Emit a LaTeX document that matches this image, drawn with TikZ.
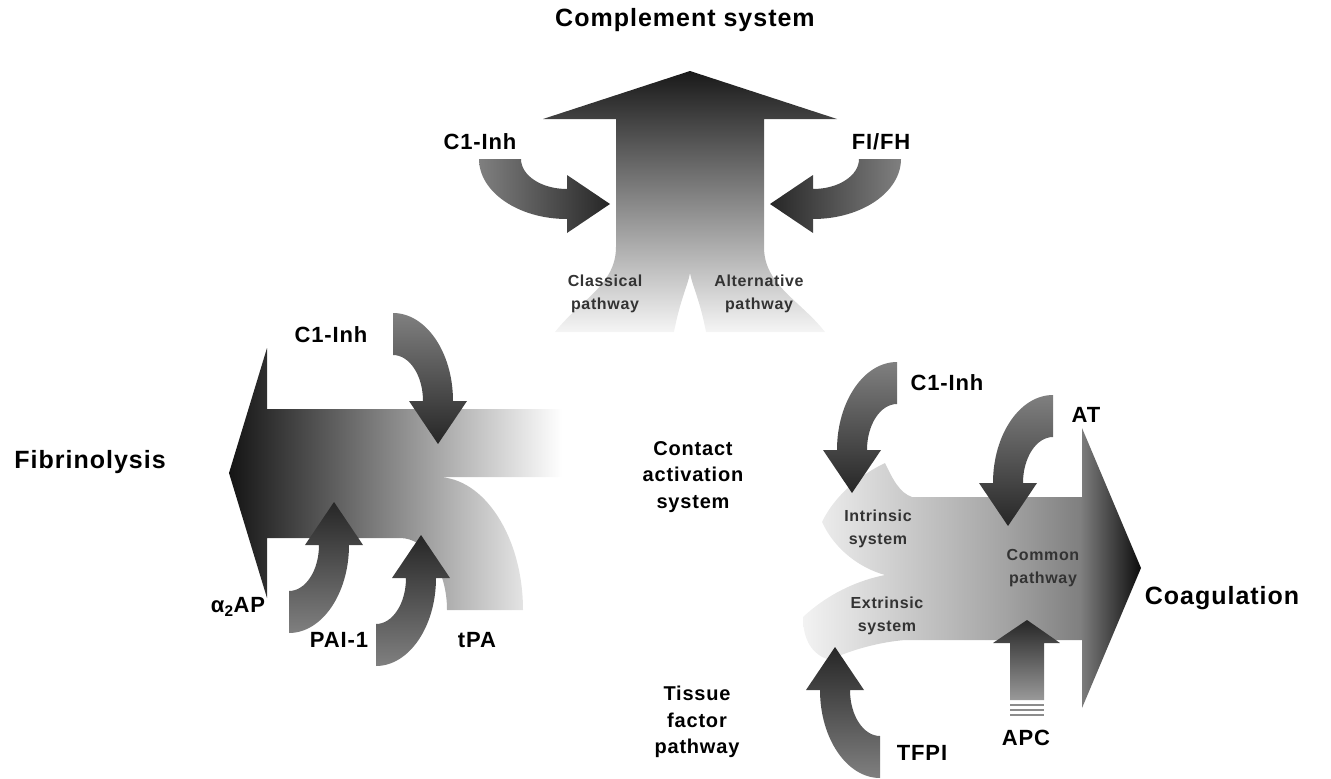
\documentclass[tikz,border=0pt]{standalone}
\usepackage{
    fontspec,   % For the figure font
}
\setmainfont{Liberation Sans}
\newfontfamily\figfont[LetterSpace=4]{Liberation Sans}
\pgfdeclarehorizontalshading{coagshade}{100bp}{color(0bp)=(black!5);
    color(25bp)=(black!5); color(55bp)=(black!36); color(66bp)=(black!50);
    color(75bp)=(black!95); color(100bp)=(black!95)}
\tikzstyle{bigtext} = [font=\figfont\bfseries\fontsize{25}{30}\selectfont]
\tikzstyle{inhtext} = [font=\figfont\bfseries\fontsize{22}{26}\selectfont]
\tikzstyle{systext} = [font=\figfont\bfseries\fontsize{20}{26.5}\selectfont,
    align=center]
\tikzstyle{steptext} = [font=\figfont\bfseries\fontsize{16}{23}\selectfont,
    align=center, text=black!80]
\tikzstyle{inhshape} = [insert path={(0,-88) .. controls (33,-88) and (60,-48.6) .. (60,0)
    -- (74,0) -- (45,43) -- (16,0) -- (30,0)
    .. controls (30,-25.4) and (16.6,-46) .. (0,-46) -- cycle}]
\tikzstyle{inhdown} = [top color=black!50, bottom color=black!85]
\tikzstyle{inhup} = [top color=black!85, bottom color=black!50]
\tikzstyle{inhright} = [left color=black!50, right color=black!85]
\tikzstyle{inhleft} = [left color=black!85, right color=black!50]

\begin{document}
\begin{tikzpicture}[x=1pt, y=-1pt]
        \useasboundingbox (0,0) rectangle (1331,779);
        % Complement arrow
        \shade [top color=black!90, middle color=black!45, bottom color=black!4]
            (690,71) -- (837,119) -- (764,119) -- (764,247)
            .. controls (764,285) and (800,300) .. (825,332) -- (706,332)
            .. controls (700,300) and (692,285) .. (690,273)
            .. controls (688,285) and (680,300) .. (674,332) -- (555,332)
            .. controls (580,300) and (616,285) .. (616,247)
            -- (616,119) -- (543,119) -- cycle;
        % Fibrinolysis arrow
        \shade [left color=black!92, middle color=black!45, right color=white]
            (229,473) -- (267,348) -- (267,409) -- (562,409) -- (562,477) -- (437,477)
            .. controls (484,477) and (523,537) .. (523,610) -- (447,610)
            .. controls (447,570) and (426,538) .. (400,538)
            -- (267,538) -- (267,598) -- cycle;
        % Coagulation arrow
        \shade [shading=coagshade]
            (912,497) -- (1082,497) -- (1082,428) -- (1141,568) -- (1082,708)
            -- (1082,640) -- (905,640)
            .. controls (880,642) and (850,650) .. (830,660)
            .. controls (812,655) and (803,640) .. (803,617)
            .. controls (830,592) and (860,580) .. (885,575)
            .. controls (860,568) and (835,550) .. (822,522)
            .. controls (835,495) and (860,475) .. (885,463)
            .. controls (893,480) and (900,493) .. (912,497) -- cycle;
        % Inhibitor arrows
        \shade [inhright, cm={0,-1,-1,0,(567,159)}, inhshape];
        \shade [inhleft, cm={0,-1,1,0,(813,159)}, inhshape];
        \shade [inhdown, shift={(393,401)}, inhshape];
        \shade [inhup, shift={(289,545)}, yscale=-1, inhshape];
        \shade [inhup, shift={(376,578)}, yscale=-1, inhshape];
        \shade [inhdown, shift={(897,450)}, xscale=-1, inhshape];
        \shade [inhdown, shift={(1053,483)}, xscale=-1, inhshape];
        \shade [inhup, shift={(880,690)}, scale=-1, inhshape];
        % APC arrow
        \shade [top color=black!85, bottom color=black!40]
            (1027,620) -- (1060,643) -- (1044,643) -- (1044,700)
            -- (1010,700) -- (1010,643) -- (993,643) -- cycle;
        \foreach \y in {705,710,715}
            \draw [black!45, line width=2] (1010,\y) -- (1044,\y);
        % Place labels
        \node [bigtext] (complement) at (685,20) {Complement system};
        \node [bigtext] (fibrinolysis) at (90,462) {Fibrinolysis};
        \node [bigtext] (coagulation) at (1222,598) {Coagulation};
        \node [systext] (contact) at (693,477) {Contact\\activation\\system};
        \node [systext] (tissue) at (697,722) {Tissue\\factor\\pathway};
        \node [inhtext] (c1Top) at (480,142) {C1-Inh};
        \node [inhtext] (fiFh) at (881,142) {FI/FH};
        \node [inhtext] (c1Left) at (331,335) {C1-Inh};
        \node [inhtext] (c1Right) at (947,383) {C1-Inh};
        \node [inhtext] (atLbl) at (1086,415) {AT};
        \node [inhtext] (a2ap) at (238,607) {α\textsubscript{2}AP};
        \node [inhtext] (pai) at (339,640) {PAI-1};
        \node [inhtext] (tpa) at (477,640) {tPA};
        \node [inhtext] (tfpi) at (922,753) {TFPI};
        \node [inhtext] (apc) at (1026,738) {APC};
        \node [steptext] (classical) at (605,294) {Classical\\pathway};
        \node [steptext] (alternative) at (759,294) {Alternative\\pathway};
        \node [steptext] (intrinsic) at (878,529) {Intrinsic\\system};
        \node [steptext] (extrinsic) at (887,616) {Extrinsic\\system};
        \node [steptext] (common) at (1043,568) {Common\\pathway};
    \end{tikzpicture}
\end{document}
